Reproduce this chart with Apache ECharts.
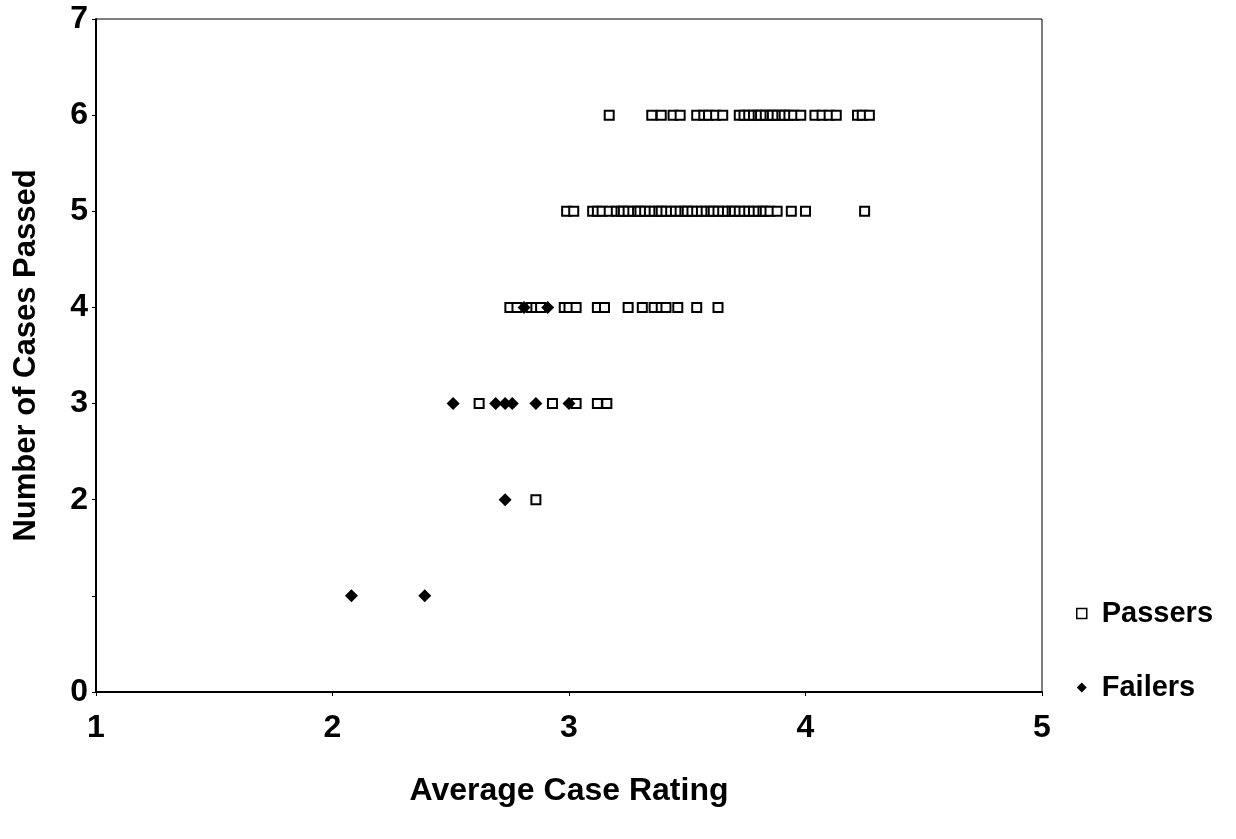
<!DOCTYPE html>
<html>
<head>
<meta charset="utf-8">
<script src="https://cdn.jsdelivr.net/npm/echarts@6/dist/echarts.min.js"></script>
<style>html,body{margin:0;padding:0;background:#fff}#c{width:1236px;height:839px}</style>
</head>
<body>
<div id="c"></div>
<script>
// Passers: [average case rating, number of cases passed]
var passers6 = [3.17,3.35,3.39,3.44,3.47,3.54,3.57,3.59,3.62,3.65,3.72,3.74,3.76,3.78,3.80,3.81,3.83,3.85,3.86,3.88,3.90,3.91,3.93,3.95,3.98,4.04,4.07,4.10,4.13,4.22,4.24,4.27];
var passers5 = [2.99,3.02,3.10,3.12,3.14,3.17,3.20,3.22,3.23,3.25,3.27,3.29,3.30,3.32,3.34,3.36,3.38,3.39,3.41,3.43,3.45,3.47,3.49,3.50,3.52,3.54,3.56,3.58,3.60,3.61,3.63,3.65,3.67,3.69,3.70,3.72,3.74,3.76,3.78,3.80,3.82,3.83,3.85,3.88,3.94,4.00,4.25];
var passers4 = [2.75,2.78,2.84,2.86,2.88,2.98,3.00,3.03,3.12,3.15,3.25,3.31,3.36,3.39,3.41,3.46,3.54,3.63];
var passers3 = [2.62,2.93,3.03,3.12,3.16];
var passers2 = [2.86];
// Failers
var failers4 = [2.81,2.91];
var failers3 = [2.51,2.69,2.73,2.76,2.86,3.00];
var failers2 = [2.73];
var failers1 = [2.08,2.39];

var xTicks = [1,2,3,4,5];
var yTickLabels = {0:'0',1:'',2:'2',3:'3',4:'4',5:'5',6:'6',7:'7'};

function rows(list) {
  var out = [];
  list.forEach(function (r) { r[0].forEach(function (x) { out.push([x, r[1]]); }); });
  return out;
}
var passersData = rows([[passers6,6],[passers5,5],[passers4,4],[passers3,3],[passers2,2]]);
var failersData = rows([[failers4,4],[failers3,3],[failers2,2],[failers1,1]]);

var font = '"Liberation Sans", Arial, sans-serif';
var chart = echarts.init(document.getElementById('c'), null, {renderer:'canvas'});
chart.setOption({
  animation: false,
  backgroundColor: '#fff',
  grid: {left: 96, right: 194, top: 19, bottom: 147, containLabel: false, outerBoundsMode: 'none',
         show: true, borderColor: '#000', borderWidth: 1, backgroundColor: 'transparent'},
  xAxis: {
    type: 'value', min: xTicks[0], max: xTicks[xTicks.length-1], interval: 1,
    name: 'Average Case Rating', nameLocation: 'middle', nameGap: 83,
    nameTextStyle: {fontFamily: font, fontSize: 32, fontWeight: 'bold', color: '#000'},
    axisLine: {show: true, onZero: false, lineStyle: {color: '#000', width: 2}},
    axisTick: {show: true, length: 4, lineStyle: {color: '#000'}},
    axisLabel: {fontFamily: font, fontSize: 32, fontWeight: 'bold', color: '#000', margin: 20},
    splitLine: {show: false}
  },
  yAxis: {
    type: 'value', min: 0, max: 7, interval: 1,
    name: 'Number of Cases Passed', nameLocation: 'middle', nameGap: 54, nameRotate: 90,
    nameTextStyle: {fontFamily: font, fontSize: 31, fontWeight: 'bold', color: '#000'},
    axisLine: {show: true, lineStyle: {color: '#000', width: 2}},
    axisTick: {show: true, length: 4, lineStyle: {color: '#000'}},
    axisLabel: {fontFamily: font, fontSize: 32, fontWeight: 'bold', color: '#000', margin: 8,
      formatter: function (v) { return yTickLabels[v] !== undefined ? yTickLabels[v] : ''; }},
    splitLine: {show: false}
  },
  legend: {
    orient: 'vertical', left: 1071, top: 594, itemGap: 45, itemWidth: 10, itemHeight: 10,
    textStyle: {fontFamily: font, fontSize: 29, fontWeight: 'bold', color: '#000', padding: [0,0,0,10]},
    data: [
      {name: 'Passers', icon: 'rect', itemStyle: {color: '#fff', borderColor: '#000', borderWidth: 1.5}},
      {name: 'Failers', icon: 'diamond', itemStyle: {color: '#000'}}
    ]
  },
  series: [
    {name: 'Passers', type: 'scatter', symbol: 'rect', symbolSize: 9, data: passersData,
     itemStyle: {color: '#fff', borderColor: '#000', borderWidth: 2, opacity: 1}, z: 2},
    {name: 'Failers', type: 'scatter', symbol: 'diamond', symbolSize: 13, data: failersData,
     itemStyle: {color: '#000', opacity: 1}, z: 3}
  ]
});
</script>
</body>
</html>
